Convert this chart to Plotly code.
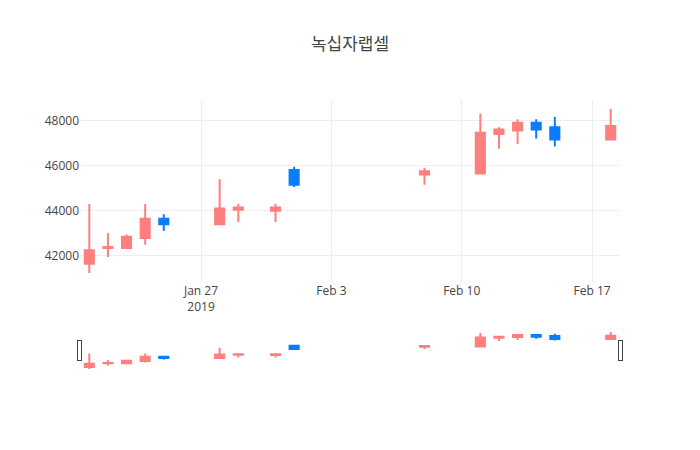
import plotly.graph_objects as go

dates = ["2019-01-21", "2019-01-22", "2019-01-23", "2019-01-24", "2019-01-25",
         "2019-01-28", "2019-01-29", "2019-01-31", "2019-02-01", "2019-02-08",
         "2019-02-11", "2019-02-12", "2019-02-13", "2019-02-14", "2019-02-15",
         "2019-02-18"]
opens = [41650, 42350, 42350, 42800, 43650, 43400, 44050, 44000, 45800, 45600,
         45650, 47400, 47550, 47900, 47700, 47150]
highs = [44300, 43000, 42950, 44300, 43850, 45400, 44300, 44300, 45950, 45900,
         48300, 47700, 48050, 48050, 48150, 48500]
lows = [41250, 41950, 42350, 42500, 43100, 43400, 43500, 43500, 45050, 45150,
        45650, 46750, 46950, 47200, 46850, 47150]
closes = [42250, 42400, 42850, 43650, 43400, 44100, 44150, 44150, 45150, 45750,
          47450, 47600, 47900, 47600, 47150, 47750]

title = "녹십자랩셀"

fig = go.Figure(go.Candlestick(
    x=dates, open=opens, high=highs, low=lows, close=closes,
    increasing=dict(line=dict(color="#ff7f7f"), fillcolor="#ff7f7f"),
    decreasing=dict(line=dict(color="#0a7cff"), fillcolor="#0a7cff"),
))

fig.update_layout(
    title=dict(text=title, x=0.5, font=dict(size=17, family="Noto Sans CJK KR", color="#444")),
    font=dict(family="Open Sans", color="#444"),
    width=700, height=450,
    plot_bgcolor="white", paper_bgcolor="white",
    xaxis=dict(rangeslider=dict(visible=True), gridcolor="#eee", showline=False),
    yaxis=dict(gridcolor="#eee", zeroline=False, tickformat="d"),
)

fig.write_html("out.html")
